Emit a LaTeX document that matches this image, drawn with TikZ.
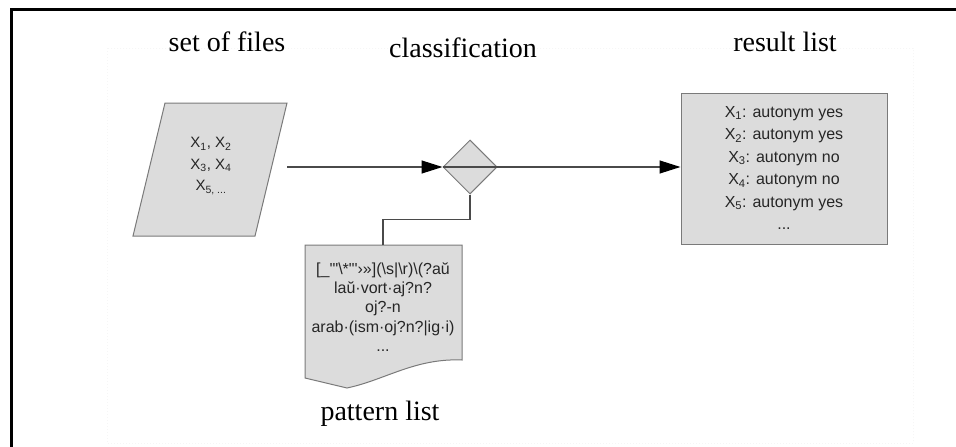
\documentclass[tikz,border=0pt]{standalone}
\usepackage{fontspec}
\setmainfont{Liberation Serif}
\newfontfamily\bodyfont{Liberation Sans}
\usetikzlibrary{shapes.geometric,arrows.meta}
\definecolor{shapefill}{HTML}{DCDCDC}
\definecolor{shapeedge}{HTML}{7A7A7A}
\definecolor{wire}{HTML}{4A4A4A}

\begin{document}
\begin{tikzpicture}[x=1pt,y=-1pt,
  title/.style={font=\fontsize{28}{30}\selectfont, anchor=base},
  shapeline/.style={draw=shapeedge, fill=shapefill, line width=1pt},
  wireline/.style={draw=wire, line width=1.2pt},
  flow/.style={wireline, -{Triangle[length=21pt,width=13pt,color=black,fill=black]}},
  body/.style={font=\bodyfont\fontsize{16}{22.5}\selectfont, align=center, text=black!85, inner sep=0pt}]
\useasboundingbox (0,0) rectangle (956,447);
\fill[white] (0,0) rectangle (956,447);
% faint page outline and the heavy frame edges
\draw[gray!7, dotted, line width=1pt] (107,48) rectangle (913,443);
\draw[line width=3pt] (11,447) -- (11,9) -- (956,9);

% input: set of files
\draw[shapeline] (165,103) -- (287,103) -- (255,236) -- (133,236) -- cycle;
\node[body, font=\bodyfont\fontsize{15}{21.5}\selectfont] (files) at (211,166)
  {X\textsubscript{1}, X\textsubscript{2}\\X\textsubscript{3}, X\textsubscript{4}\\X\textsubscript{5, ...}};
\coordinate (filesout) at (287,167);

% classification decision
\node[diamond, shapeline, minimum width=54pt, minimum height=54pt, inner sep=0pt] (cls) at (470,167) {};

% result list
\node[rectangle, shapeline, minimum width=206pt, minimum height=151pt, inner sep=0pt] (res) at (784,168.5) {};
\node[body] (reslines) at (784,168)
  {X\textsubscript{1}: autonym yes\\X\textsubscript{2}: autonym yes\\X\textsubscript{3}: autonym no\\
   X\textsubscript{4}: autonym no\\X\textsubscript{5}: autonym yes\\...};

% pattern list document
\draw[shapeline] (305,245) -- (462,245) -- (462,360)
  .. controls (415,358) and (385,380) .. (347,388) -- (305,378) -- cycle;
\coordinate (pattop) at (383,245);
\node[body, font=\bodyfont\fontsize{16}{19.2}\selectfont] (patlines) at (383,307)
  {[\_'"\textbackslash*"'›»](\textbackslash s|\textbackslash r)\textbackslash(?aŭ\\
   laŭ·vort·aj?n?\\oj?-n\\arab·(ism·oj?n?|ig·i)\\...};

% connectors
\draw[flow] (filesout) -- (cls.west);
\draw[wireline] (cls.west) -- (cls.east);
\draw[flow] (cls.east) -- (cls.east -| res.west);
\draw[wireline] (cls.south) -- ++(0,25) -| (pattop);

% headings
\node[title] (t1) at (227,51) {set of files};
\node[title] (t2) at (463,57) {classification};
\node[title] (t3) at (785,51) {result list};
\node[title] (t4) at (380,420) {pattern list};
\end{tikzpicture}
\end{document}
